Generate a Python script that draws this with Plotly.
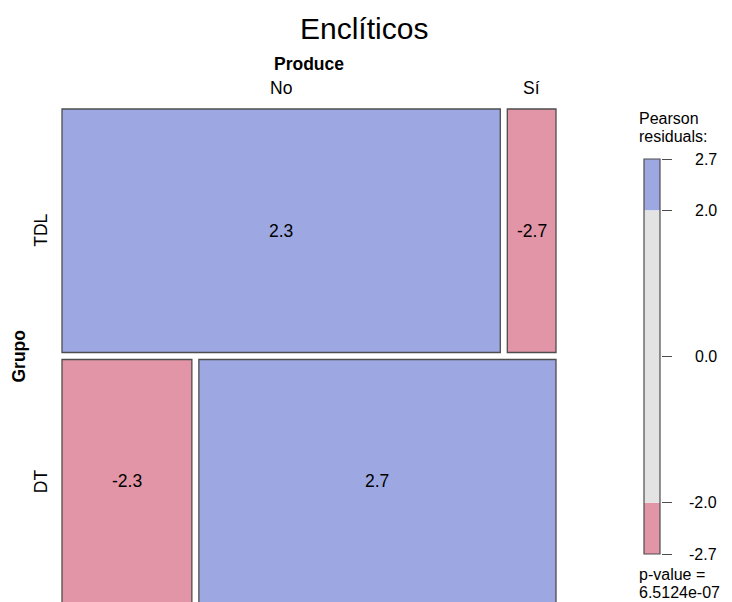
import plotly.graph_objects as go

# ---------------- data ----------------
groups = ["TDL", "DT"]                 # rows (Grupo)
produce = ["No", "Sí"]                 # columns (Produce)
counts_TDL = [27, 3]
counts_DT = [8, 22]
residuals_TDL = [2.3, -2.7]
residuals_DT = [-2.3, 2.7]
legend_ticks = [-2.7, -2.0, 0.0, 2.0, 2.7]
legend_tick_labels = ["-2.7", "-2.0", "0.0", "2.0", "2.7"]
shade_breaks = [-2.7, -2.0, 2.0, 2.7]
p_value_text = "6.5124e-07"
title_text = "Enclíticos"

counts = [counts_TDL, counts_DT]
residuals = [residuals_TDL, residuals_DT]

# ---------------- style ----------------
W, H = 732, 602
ML, MR, MT, MB = 59, 0, 104, 0
PW, PH = W - ML - MR, H - MT - MB
FONT = "Liberation Sans, Arial, Helvetica, sans-serif"
FS = 17.5
FS_LEG = 16
BLUE = "#9DA8E2"
PINK = "#E295A6"
GREY = "#E3E3E3"
BORDER = "#4d4d4d"
GAP = 7 / 494.0


def px_x(p):
    return (p - ML) / PW


def px_y(p):
    return (H - MB - p) / PH


def shade(r):
    if r > 2:
        return BLUE
    if r < -2:
        return PINK
    return GREY


def txt(size=FS):
    return dict(size=size, color="black", family=FONT)


fig = go.Figure()
shapes = []
annotations = []

# ---------------- mosaic tiles ----------------
total = sum(sum(r) for r in counts)
usable = 1 - GAP
y_top = 1.0
row_centers = []
for i, g in enumerate(groups):
    row_tot = sum(counts[i])
    h = usable * row_tot / total
    y1 = y_top
    y0 = y_top - h
    row_centers.append((y0 + y1) / 2)
    x_left = 0.0
    for j, c in enumerate(produce):
        w = usable * counts[i][j] / row_tot
        x0, x1 = x_left, x_left + w
        shapes.append(dict(type="rect", xref="x", yref="y", x0=x0, x1=x1, y0=y0, y1=y1,
                           fillcolor=shade(residuals[i][j]),
                           line=dict(color=BORDER, width=1.3), layer="above"))
        annotations.append(dict(x=(x0 + x1) / 2, y=(y0 + y1) / 2, xref="x", yref="y",
                                text=f"{residuals[i][j]:.1f}", showarrow=False,
                                xanchor="center", yanchor="middle", font=txt()))
        if i == 0:
            annotations.append(dict(x=(x0 + x1) / 2, y=px_y(88), xref="x", yref="paper",
                                    text=c, showarrow=False, xanchor="center",
                                    yanchor="middle", font=txt()))
        x_left = x1 + GAP
    y_top = y0 - GAP

# invisible trace to establish axes
fig.add_trace(go.Scatter(x=[0, 1], y=[0, 1], mode="markers", marker=dict(opacity=0),
                         hoverinfo="skip", showlegend=False, xaxis="x", yaxis="y"))

# row labels
for i, g in enumerate(groups):
    annotations.append(dict(x=px_x(41), y=row_centers[i], xref="paper", yref="y",
                            text=g, showarrow=False, textangle=-90,
                            xanchor="center", yanchor="middle", font=txt()))

annotations.append(dict(x=px_x(18.5), y=0.5, xref="paper", yref="y", text="<b>Grupo</b>",
                        showarrow=False, textangle=-90, xanchor="center", yanchor="middle",
                        font=txt()))
annotations.append(dict(x=0.5, y=px_y(64), xref="x", yref="paper", text="<b>Produce</b>",
                        showarrow=False, xanchor="center", yanchor="middle", font=txt()))
annotations.append(dict(x=px_x(364), y=px_y(28), xref="paper", yref="paper", text=title_text,
                        showarrow=False, xanchor="center", yanchor="middle", font=txt(30)))

# ---------------- legend (shading key) ----------------
fig.add_trace(go.Scatter(x=[0, 1], y=[-2.7, 2.7], mode="markers", marker=dict(opacity=0),
                         hoverinfo="skip", showlegend=False, xaxis="x2", yaxis="y2"))
for a, b in zip(shade_breaks[:-1], shade_breaks[1:]):
    shapes.append(dict(type="rect", xref="x2", yref="y2", x0=0, x1=1, y0=a, y1=b,
                       fillcolor=shade((a + b) / 2), line=dict(width=0), layer="below"))
shapes.append(dict(type="rect", xref="x2", yref="y2", x0=0, x1=1,
                   y0=shade_breaks[0], y1=shade_breaks[-1],
                   fillcolor="rgba(0,0,0,0)", line=dict(color=BORDER, width=1.2), layer="above"))
for v, lab in zip(legend_ticks, legend_tick_labels):
    annotations.append(dict(x=px_x(719), y=v, xref="paper", yref="y2", text=lab,
                            showarrow=False, xanchor="right", yanchor="middle",
                            font=txt(FS_LEG)))

legend_lines = [("Pearson", 118), ("residuals:", 136), ("p-value =", 574), (p_value_text, 592)]
for label, py in legend_lines:
    annotations.append(dict(x=px_x(637), y=px_y(py), xref="paper", yref="paper",
                            text=label, showarrow=False, xanchor="left",
                            align="left", yanchor="middle", font=txt(FS_LEG)))

pad = 3 / 494.0
fig.update_layout(
    width=W, height=H,
    margin=dict(l=ML, r=MR, t=MT, b=MB, pad=0),
    paper_bgcolor="white", plot_bgcolor="rgba(0,0,0,0)",
    showlegend=False,
    font=dict(family=FONT, color="black"),
    xaxis=dict(domain=[0, 500 / PW], range=[-pad, 1 + pad], visible=False, fixedrange=True),
    yaxis=dict(domain=[0, 1], range=[0.002, 0.002 + PH / 494.0], visible=False, fixedrange=True),
    xaxis2=dict(domain=[px_x(643), px_x(661)], range=[-1 / 16, 1 + 1 / 16], visible=False,
                anchor="y2", fixedrange=True),
    yaxis2=dict(domain=[px_y(555), px_y(158)], range=[-2.7 - 5.4 / 395, 2.7 + 5.4 / 395],
                anchor="x2", side="right", showgrid=False, zeroline=False, showline=False,
                showticklabels=False, ticks="outside", ticklen=10, tickwidth=1,
                tickcolor=BORDER, tickvals=legend_ticks, fixedrange=True),
    shapes=shapes,
    annotations=annotations,
)

fig.write_html("out.html")
